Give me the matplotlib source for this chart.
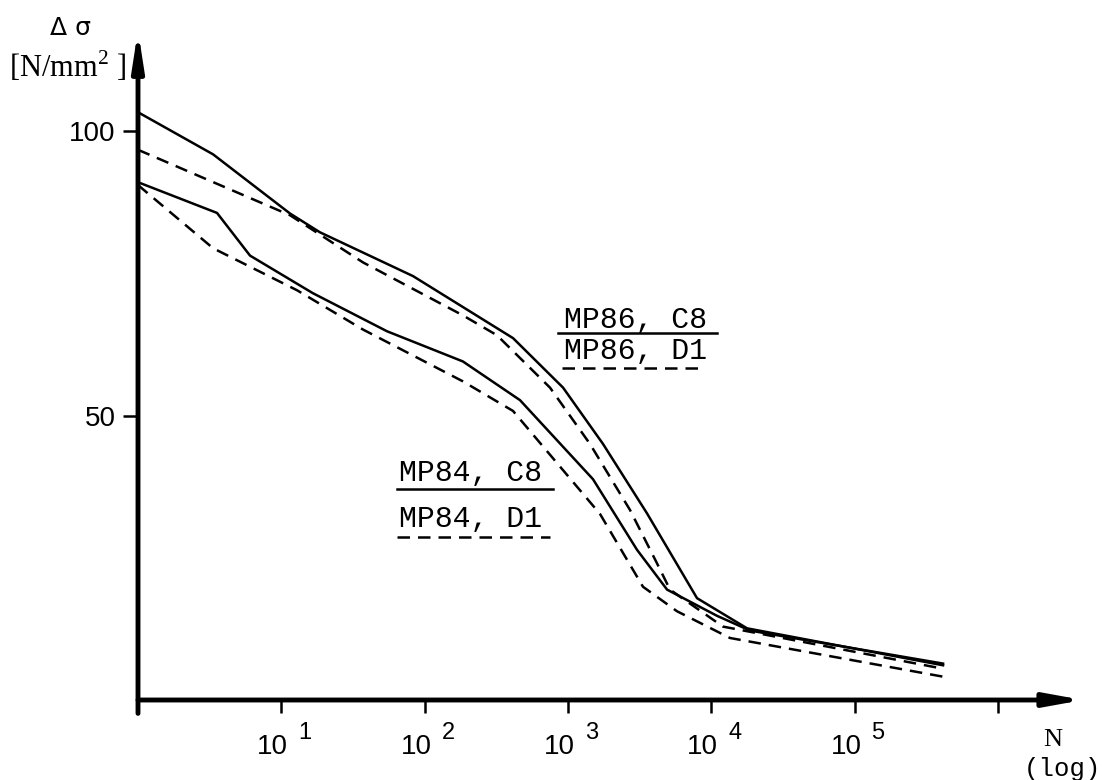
import matplotlib
matplotlib.use('Agg')
import matplotlib.pyplot as plt
from matplotlib.lines import Line2D

# S-N curves (N, delta sigma in N/mm2)
mp86_c8_n = [1, 3.34, 11.5, 18.6, 83, 414, 925, 1758, 3565, 7960, 17780, 415000]
mp86_c8_s = [103.3, 95.9, 85.5, 82.2, 74.5, 63.6, 54.9, 45.0, 32.8, 17.9, 12.6, 6.1]

mp86_d1_n = [1, 11.5, 37.2, 185, 320, 750, 1426, 2712, 4190, 5157, 12080, 415000]
mp86_d1_s = [96.7, 85.2, 76.9, 67.6, 64.1, 54.9, 45.0, 33.4, 24.0, 19.4, 12.9, 5.5]

mp84_c8_n = [1, 3.56, 6.05, 16.6, 54.7, 185, 463, 1497, 3035, 4920, 10970, 18660, 415000]
mp84_c8_s = [91.0, 85.6, 78.1, 71.5, 64.8, 59.5, 52.7, 38.8, 26.4, 19.4, 14.8, 12.2, 6.4]

mp84_d1_n = [1, 3.34, 12.9, 37.2, 185, 414, 1675, 3342, 5770, 13520, 415000]
mp84_d1_s = [90.5, 79.4, 72.0, 65.1, 56.0, 50.8, 32.7, 19.9, 15.6, 10.9, 4.1]

x_ticks = [1, 1e1, 1e2, 1e3, 1e4, 1e5, 1e6]
x_exponents = ['', '1', '2', '3', '4', '5', '']
y_ticks = [50, 100]

plt.rcParams['font.family'] = ['Liberation Sans', 'DejaVu Sans']
serif = ['Liberation Serif', 'DejaVu Serif']
mono = ['Liberation Mono', 'DejaVu Sans Mono']

fig = plt.figure(figsize=(11.02, 7.8), dpi=100)
ax = fig.add_axes([138 / 1102, 1 - 700 / 780, 945 / 1102, 670 / 780])

ax.set_xscale('log')
ax.set_xlim(1, 10 ** (945 / 143.3))
ax.set_ylim(0, 670 / 5.69)

solid = dict(color='black', lw=1.8, solid_joinstyle='round', clip_on=False)
dashed = dict(color='black', lw=1.8, linestyle=(0, (5, 3.2)), clip_on=False)
ax.plot(mp86_c8_n, mp86_c8_s, **solid)
ax.plot(mp86_d1_n, mp86_d1_s, **dashed)
ax.plot(mp84_c8_n, mp84_c8_s, **solid)
ax.plot(mp84_d1_n, mp84_d1_s, **dashed)

# axes drawn as arrows
for s in ax.spines.values():
    s.set_visible(False)
ax.annotate('', xy=(0, 1), xytext=(0, -0.02), xycoords='axes fraction',
            arrowprops=dict(arrowstyle='-|>,head_length=1.1,head_width=0.17',
                            lw=3.5, color='black', mutation_scale=20, shrinkA=0, shrinkB=0))
ax.annotate('', xy=(1, 0), xytext=(0, 0), xycoords='axes fraction',
            arrowprops=dict(arrowstyle='-|>,head_length=1.1,head_width=0.2',
                            lw=3.5, color='black', mutation_scale=20, shrinkA=0, shrinkB=0))

ax.set_xticks(x_ticks)
ax.set_xticklabels([''] * len(x_ticks))
ax.xaxis.set_minor_locator(matplotlib.ticker.NullLocator())
ax.tick_params(axis='x', direction='out', length=9, width=1.8)
# "10" with a large raised exponent, like the typed original
for xt, ex in zip(x_ticks, x_exponents):
    if not ex:
        continue
    ax.annotate('10', xy=(xt, 0), xycoords=('data', 'axes fraction'),
                xytext=(7, -47), textcoords='offset pixels', ha='right', va='center',
                fontsize=20, annotation_clip=False)
    ax.annotate(ex, xy=(xt, 0), xytext=(17, -33), xycoords=('data', 'axes fraction'),
                textcoords='offset pixels', ha='left', va='center', fontsize=17,
                annotation_clip=False)

ax.set_yticks(y_ticks)
ax.set_yticklabels([str(v) for v in y_ticks])
ax.tick_params(axis='y', direction='out', length=11, width=1.8, pad=5, labelsize=20)

# axis titles
fig.text(71 / 1102, 1 - 28 / 780, 'Δ σ', ha='center', va='center', fontsize=18,
         family=['DejaVu Sans'])
fig.text(68 / 1102, 1 - 67 / 780, r'[N/mm$^{\mathregular{2}}$ ]', ha='center', va='center',
         fontsize=22, family=serif)
fig.text(1053 / 1102, 1 - 740 / 780, 'N', ha='center', va='center', fontsize=19, family=serif)
fig.text(1062 / 1102, 1 - 769 / 780, '(log)', ha='center', va='center', fontsize=18.5, family=mono)

# curve labels with line-style underlines
labels = [
    ('MP86, C8', 564, 320, 558, 717, 333, '-'),
    ('MP86, D1', 564, 351, 562, 703, 368, '--'),
    ('MP84, C8', 399, 473, 397, 553, 489, '-'),
    ('MP84, D1', 399, 519, 397, 550, 537, '--'),
]
for txt, tx, ty, x0, x1, uy, ls in labels:
    fig.text(tx / 1102, 1 - ty / 780, txt, ha='left', va='center', fontsize=21.5, family=mono)
    ln = Line2D([x0 / 1102, x1 / 1102], [1 - uy / 780, 1 - uy / 780], transform=fig.transFigure,
                color='black', lw=1.8, linestyle='-' if ls == '-' else (0, (5, 3.2)))
    fig.add_artist(ln)

plt.savefig('out.png', dpi=100)
plt.close()
